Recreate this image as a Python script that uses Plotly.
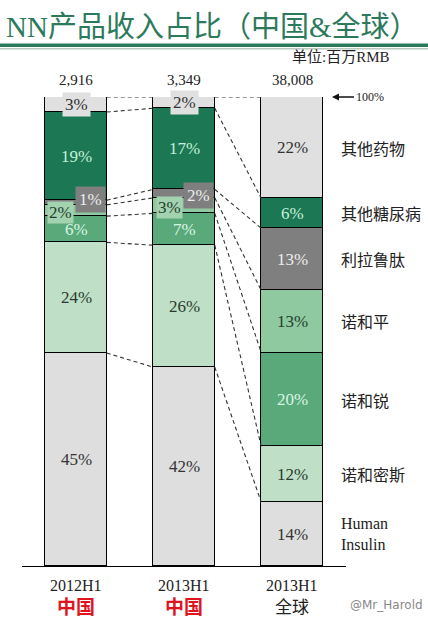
import plotly.graph_objects as go

# ---------------- data ----------------
periods = ["2012H1", "2013H1", "2013H1"]
regions = ["中国", "中国", "全球"]
totals = [2916, 3349, 38008]
products = ["Human Insulin", "诺和密斯", "诺和锐", "诺和平", "利拉鲁肽", "其他糖尿病", "其他药物"]
product_labels = ["Human<br>Insulin", "诺和密斯", "诺和锐", "诺和平", "利拉鲁肽", "其他糖尿病", "其他药物"]
share_2012_cn = [45.4, 23.6, 5.6, 2.4, 1.0, 18.8, 3.2]
share_2013_cn = [42.4, 26.0, 6.8, 3.3, 1.8, 17.3, 2.4]
share_2013_gl = [13.6, 11.9, 20.0, 13.3, 13.2, 6.4, 21.6]
shares = [share_2012_cn, share_2013_cn, share_2013_gl]

# ---------------- style ----------------
colors = ["#dedede", "#bfe0c6", "#5aa97b", "#8fc9a0", "#7f7f7f", "#1c7854", "#e0e0e0"]
text_colors = ["#333333", "#2a3a30", "#d9f5e2", "#23402e", "#ececec", "#c6f0d8", "#333333"]
SERIF = "Liberation Serif, Noto Sans CJK SC, serif"
CJK = "Noto Sans CJK SC, sans-serif"
W = 0.57
H_PX = 469.3          # plot height in px
TOP, BOTTOM, LEFT, PW = 96.7, 566.0, 22.0, 324.0

def ppy(px):
    return (BOTTOM - px) / H_PX

def ppx(px):
    return (px - LEFT) / PW

# label offsets for the tiny segments (bar index, segment index) -> (xshift, yshift, bg, pad)
special = {
    (0, 4): (14, 3, "#7f7f7f", 3),
    (0, 3): (-16, -2, "#a3d2b0", 1),
    (0, 6): (0, 0, "#e0e0e0", 2),
    (1, 4): (14, -2, "#7f7f7f", 3),
    (1, 3): (-15, -2, "#a3d2b0", 1),
    (1, 6): (0, 0, "#e0e0e0", 2),
}

fig = go.Figure()
xs = list(range(len(periods)))
for i, p in enumerate(products):
    fig.add_trace(go.Bar(
        x=xs, y=[s[i] for s in shares], width=W,
        marker=dict(color=colors[i], line=dict(color="black", width=1)),
        name=p, showlegend=False, hoverinfo="skip"))

# dashed connectors between cumulative boundaries
for j in range(len(shares) - 1):
    a, b = shares[j], shares[j + 1]
    ca = cb = 0
    lx, ly = [], []
    for i in range(len(products)):
        ca += a[i]
        cb += b[i]
        lx += [j + W / 2, j + 1 - W / 2, None]
        ly += [ca, cb, None]
    fig.add_trace(go.Scatter(x=lx, y=ly, mode="lines", showlegend=False, hoverinfo="skip",
                             line=dict(color="#333333", width=1.1, dash="4px,3px")))

ann = []
# segment labels
for j, s in enumerate(shares):
    c = 0
    for i, v in enumerate(s):
        mid = c + v / 2
        c += v
        xsft, ysft, bg, pad = special.get((j, i), (0, 0, None, 1))
        ann.append(dict(x=j, y=mid, xref="x", yref="y", text=f"{v:.0f}%", showarrow=False,
                        xshift=xsft, yshift=ysft, bgcolor=bg, borderpad=pad,
                        font=dict(family=SERIF, size=17, color=text_colors[i])))
    # totals on top
    ann.append(dict(x=j, y=100, xref="x", yref="y", text=f"{totals[j]:,}", showarrow=False,
                    yshift=17, yanchor="middle", font=dict(family=SERIF, size=15, color="#222")))
    # category labels
    ann.append(dict(x=j, y=0, xref="x", yref="y", text=periods[j], showarrow=False,
                    yshift=-19, yanchor="middle", font=dict(family=SERIF, size=16, color="#222")))
    reg_red = regions[j] == "中国"
    ann.append(dict(x=j, y=0, xref="x", yref="y",
                    text=f"<b>{regions[j]}</b>" if reg_red else regions[j], showarrow=False,
                    yshift=-39, yanchor="middle", borderpad=0,
                    font=dict(family=CJK, size=19 if reg_red else 17,
                              color="#e0141e" if reg_red else "#222")))

# right-hand product names, aligned with global bar segments
c = 0
for i, v in enumerate(share_2013_gl):
    mid = c + v / 2
    c += v
    ann.append(dict(x=2, y=mid, xref="x", yref="y", text=product_labels[i], showarrow=False,
                    xshift=47, xanchor="left", yanchor="middle", align="left",
                    font=dict(family=SERIF if i == 0 else CJK, size=16,
                              color="#222")))

# 100% arrow
ann.append(dict(x=2, y=100, xref="x", yref="y", text="100%", showarrow=True,
                xshift=40, ax=22, ay=0, xanchor="left", arrowhead=2, arrowsize=1,
                arrowwidth=1.4, arrowcolor="#111", font=dict(family=SERIF, size=12, color="#222")))

# title and unit
ann.append(dict(x=ppx(212), y=ppy(27), xref="paper", yref="paper", xanchor="center",
                text="NN产品收入占比（中国&全球）", showarrow=False, yanchor="middle",
                font=dict(family=SERIF, size=29, color="#2b7a5b")))
ann.append(dict(x=ppx(341), y=ppy(57), xref="paper", yref="paper", text="单位:百万RMB",
                xanchor="center", showarrow=False, yanchor="middle",
                font=dict(family=SERIF, size=15, color="#222")))
ann.append(dict(x=ppx(386), y=ppy(605), xref="paper", yref="paper", text="@Mr_Harold",
                xanchor="center", showarrow=False, yanchor="middle",
                font=dict(family="DejaVu Sans, sans-serif", size=12, color="#888")))

shapes = [
    dict(type="line", xref="paper", yref="paper", x0=ppx(0), x1=ppx(428), y0=ppy(45), y1=ppy(45),
         line=dict(color="#2b7a5b", width=3.5)),
    dict(type="line", xref="paper", yref="paper", x0=ppx(0), x1=ppx(428), y0=ppy(48.5), y1=ppy(48.5),
         line=dict(color="#b9c9c0", width=1.5)),
]

fig.update_layout(
    width=428, height=619, barmode="stack", bargap=0,
    margin=dict(l=22, r=82, t=97, b=53),
    plot_bgcolor="white", paper_bgcolor="white",
    xaxis=dict(range=[-0.5, 2.5], showline=True, linecolor="black", linewidth=1.2,
               showticklabels=False, ticks="", showgrid=False, zeroline=False, fixedrange=True),
    yaxis=dict(range=[0, 100], visible=False, fixedrange=True),
    annotations=ann, shapes=shapes,
)

fig.write_html("out.html", config={"displayModeBar": False},
               post_script="document.body.style.margin='0px';document.body.style.padding='0px';")
